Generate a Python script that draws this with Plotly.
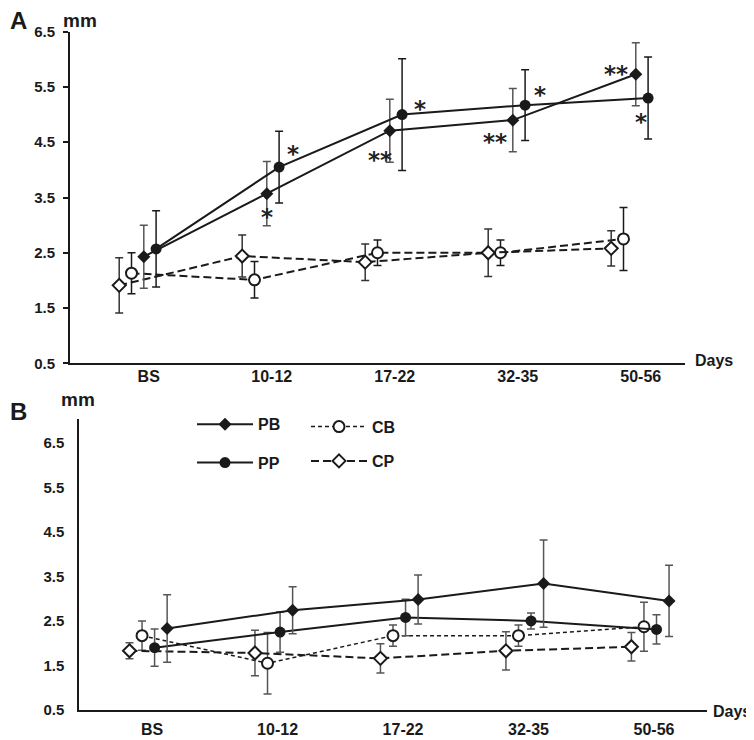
import plotly.graph_objects as go

# categories and tick labels
CATS = ["BS", "10-12", "17-22", "32-35", "50-56"]
Y_TICKS = [0.5, 1.5, 2.5, 3.5, 4.5, 5.5, 6.5]

# panel A (means and SD, mm)
A_PB = [2.43, 3.57, 4.71, 4.90, 5.73]
A_PB_SD = [0.57, 0.58, 0.57, 0.57, 0.57]
A_PP = [2.57, 4.05, 5.00, 5.17, 5.30]
A_PP_SD = [0.69, 0.65, 1.01, 0.64, 0.74]
A_CB = [2.13, 2.01, 2.50, 2.50, 2.75]
A_CB_SD = [0.37, 0.33, 0.23, 0.23, 0.57]
A_CP = [1.91, 2.44, 2.33, 2.50, 2.58]
A_CP_SD = [0.50, 0.38, 0.33, 0.43, 0.32]

# panel B
B_PB = [2.33, 2.74, 2.98, 3.34, 2.95]
B_PB_SD = [0.76, 0.53, 0.55, 0.98, 0.80]
B_PP = [1.90, 2.25, 2.58, 2.50, 2.31]
B_PP_SD = [0.42, 0.45, 0.41, 0.18, 0.33]
B_CB = [2.17, 1.55, 2.17, 2.17, 2.37]
B_CB_SD = [0.33, 0.69, 0.24, 0.24, 0.55]
B_CP = [1.83, 1.78, 1.66, 1.83, 1.92]
B_CP_SD = [0.18, 0.51, 0.33, 0.43, 0.32]

# significance marks in panel A: text, category position, y value
SIG_TEXT = ["*", "*", "**", "*", "**", "*", "**", "*"]
SIG_X = [1.315, 1.10, 2.02, 2.345, 2.955, 3.32, 3.937, 4.14]
SIG_Y = [4.35, 3.21, 4.24, 5.16, 4.55, 5.40, 5.78, 4.92]

FONT = "Liberation Sans, Arial, sans-serif"
INK = "#1a1a1a"
# the page body has an 8px margin, so the figure is a bit smaller than the window
OFF = 8
W, H = 754 - OFF, 740 - OFF


def px(x):
    return (x - OFF) / W


def py(y):
    return 1 - (y - OFF) / H


def _x(offset):
    return [i + offset for i in range(len(CATS))]


def _trace(y, sd, offset, symbol, fill, dash, width, err_color, xa, ya, name=None, legend=None):
    return go.Scatter(
        x=_x(offset), y=y, name=name, mode="lines+markers",
        xaxis=xa, yaxis=ya,
        line=dict(color=INK, width=width, dash=dash),
        marker=dict(symbol=symbol, size=11 if "circle" in symbol else 10, color=fill,
                    line=dict(color=INK, width=2 if fill == "white" else 0)),
        error_y=dict(type="data", array=sd, visible=True, color=err_color, thickness=1.5, width=4),
        showlegend=legend is not None, legend=legend or "legend",
    )


fig = go.Figure()

# panel A: controls first so the filled markers sit on top
fig.add_trace(_trace(A_CB, A_CB_SD, 0.0, "circle", "white", "8px,4px", 2, INK, "x", "y"))
fig.add_trace(_trace(A_CP, A_CP_SD, -0.1, "diamond", "white", "8px,4px", 2, "#333", "x", "y"))
fig.add_trace(_trace(A_PB, A_PB_SD, 0.1, "diamond", INK, "solid", 2, "#555", "x", "y"))
fig.add_trace(_trace(A_PP, A_PP_SD, 0.2, "circle", INK, "solid", 2, INK, "x", "y"))

# panel B, carries the legends
fig.add_trace(_trace(B_CB, B_CB_SD, 0.0, "circle", "white", "4px,3px", 1.5, "#555", "x2", "y2", "CB", "legend3"))
fig.add_trace(_trace(B_CP, B_CP_SD, -0.1, "diamond", "white", "8px,4px", 2, "#555", "x2", "y2", "CP", "legend4"))
fig.add_trace(_trace(B_PP, B_PP_SD, 0.1, "circle", INK, "solid", 2, "#555", "x2", "y2", "PP", "legend2"))
fig.add_trace(_trace(B_PB, B_PB_SD, 0.2, "diamond", INK, "solid", 2, "#555", "x2", "y2", "PB", "legend"))

for t, x, y in zip(SIG_TEXT, SIG_X, SIG_Y):
    fig.add_annotation(x=x, y=y, xref="x", yref="y", text=t, showarrow=False, yshift=-3,
                       font=dict(family="DejaVu Sans", size=23, color="#222", weight="bold"))

bold = dict(family=FONT, color=INK, weight="bold")
# panel letters sit at the left edge of the figure
for txt, y in [("A", 20), ("B", 411)]:
    fig.add_annotation(x=0, y=py(y), xref="paper", yref="paper", text=txt, showarrow=False,
                       xanchor="left", yanchor="middle", font=dict(size=24, **bold))
for txt, x, y, size in [("mm", 80, 20, 19), ("Days", 714, 361, 16),
                        ("mm", 78, 399, 19), ("Days", 732, 711, 16)]:
    fig.add_annotation(x=px(x), y=py(y), xref="paper", yref="paper", text=txt, showarrow=False,
                       xanchor="center", yanchor="middle", font=dict(size=size, **bold))

xcommon = dict(showline=True, linewidth=2, linecolor=INK, showgrid=False, zeroline=False,
               ticks="", tickfont=dict(size=16, **bold), range=[-0.5, 4.5], ticktext=CATS)
ycommon = dict(showline=True, linewidth=2, linecolor=INK, showgrid=False, zeroline=False,
               tickvals=Y_TICKS, ticktext=[f"{v:.1f}" for v in Y_TICKS], tickfont=dict(size=15, **bold))

leg = dict(font=dict(size=16, **bold), bgcolor="rgba(0,0,0,0)", xanchor="left", yanchor="middle",
           itemwidth=56, itemclick=False)

fig.update_layout(
    width=W, height=H, template="none",
    paper_bgcolor="white", plot_bgcolor="white",
    margin=dict(l=0, r=0, t=0, b=0),
    xaxis=dict(domain=[px(70), px(685)], anchor="y", tickvals=[i + 0.14 for i in range(5)],
               ticklabelstandoff=-3, **xcommon),
    yaxis=dict(domain=[py(363.3), py(31.7)], anchor="x", range=[0.5, 6.5],
               ticks="outside", ticklen=5, tickwidth=1.5, tickcolor=INK, ticklabelstandoff=5, **ycommon),
    xaxis2=dict(domain=[px(79.3), px(706.7)], anchor="y2", tickvals=[i + 0.08 for i in range(5)],
                ticklabelstandoff=4, **xcommon),
    yaxis2=dict(domain=[py(710), py(419.3)], anchor="x2", range=[0.5, 7.03],
                ticks="", ticklabelstandoff=10, **ycommon),
    legend=dict(x=px(192), y=py(424.3), **leg),
    legend2=dict(x=px(192), y=py(462.7), **leg),
    legend3=dict(x=px(306), y=py(426.7), **leg),
    legend4=dict(x=px(306), y=py(461), **leg),
)

fig.write_html("out.html")
